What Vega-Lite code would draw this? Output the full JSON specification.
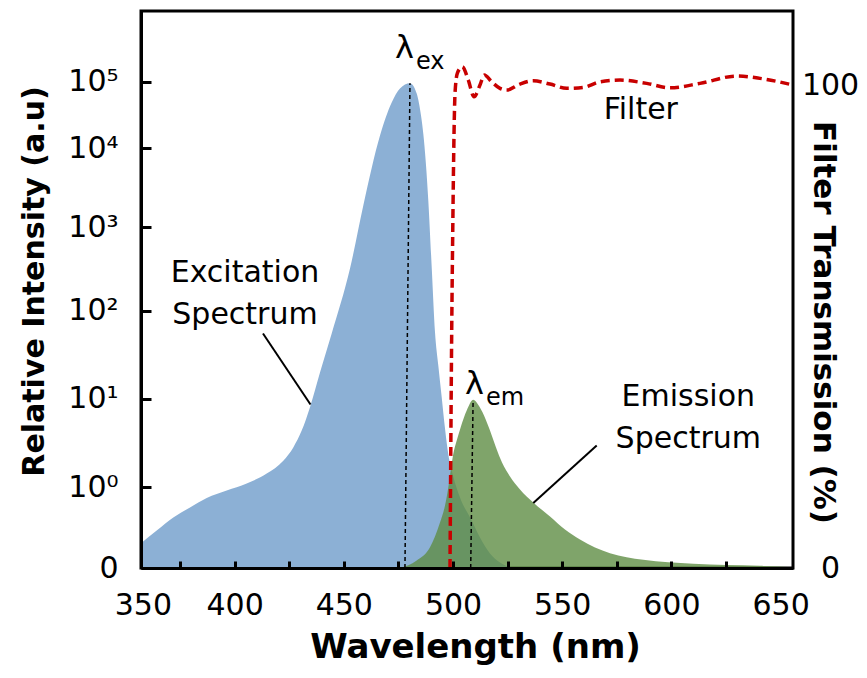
{
  "$schema": "https://vega.github.io/schema/vega-lite/v6.json",
  "width": 652,
  "height": 557,
  "autosize": {"type": "none"},
  "padding": {"left": 141, "top": 11, "right": 74, "bottom": 110},
  "background": "white",
  "config": {
    "font": "DejaVu Sans",
    "view": {"stroke": "black", "strokeWidth": 3},
    "axis": {"grid": false, "labelColor": "black", "titleColor": "black", "domainColor": "black", "tickColor": "black", "labelFontSize": 30, "labelFont": "DejaVu Sans", "titleFont": "DejaVu Sans"}
  },
  "datasets": {
    "exc": [
      {"w": 357.14, "L": 0.307}, {"w": 364.33, "L": 0.464}, {"w": 371.93, "L": 0.625}, {"w": 379.58, "L": 0.749},
      {"w": 387.23, "L": 0.866}, {"w": 396.38, "L": 0.959}, {"w": 405.54, "L": 1.042}, {"w": 414.70, "L": 1.155},
      {"w": 422.30, "L": 1.300}, {"w": 426.88, "L": 1.450}, {"w": 430.72, "L": 1.640}, {"w": 434.52, "L": 1.905},
      {"w": 439.10, "L": 2.298}, {"w": 444.46, "L": 2.740}, {"w": 452.84, "L": 3.504}, {"w": 458.93, "L": 4.275},
      {"w": 466.58, "L": 5.190}, {"w": 471.93, "L": 5.685}, {"w": 475.73, "L": 5.895}, {"w": 480.31, "L": 5.975},
      {"w": 483.38, "L": 5.820}, {"w": 485.35, "L": 5.490}, {"w": 486.40, "L": 5.216}, {"w": 488.69, "L": 4.338},
      {"w": 490.25, "L": 3.520}, {"w": 491.76, "L": 2.754}, {"w": 493.27, "L": 2.377}, {"w": 494.83, "L": 2.018},
      {"w": 496.34, "L": 1.664}, {"w": 497.94, "L": 1.359}, {"w": 500.0, "L": 1.132}, {"w": 503.21, "L": 0.873},
      {"w": 508.56, "L": 0.588}, {"w": 512.36, "L": 0.377}, {"w": 516.94, "L": 0.179}, {"w": 521.52, "L": 0.068},
      {"w": 527.02, "L": 0}
    ],
    "em": [
      {"w": 475.73, "L": 0}, {"w": 483.38, "L": 0.093}, {"w": 489.47, "L": 0.257}, {"w": 494.05, "L": 0.563},
      {"w": 496.34, "L": 0.774}, {"w": 497.85, "L": 0.996}, {"w": 499.09, "L": 1.212}, {"w": 500.14, "L": 1.378},
      {"w": 501.70, "L": 1.528}, {"w": 503.53, "L": 1.679}, {"w": 506.27, "L": 1.868}, {"w": 509.30, "L": 1.989},
      {"w": 511.45, "L": 1.936}, {"w": 514.20, "L": 1.811}, {"w": 516.94, "L": 1.641}, {"w": 519.69, "L": 1.449},
      {"w": 522.44, "L": 1.279}, {"w": 526.10, "L": 1.121}, {"w": 530.68, "L": 0.972}, {"w": 536.77, "L": 0.811},
      {"w": 544.42, "L": 0.637}, {"w": 551.28, "L": 0.476}, {"w": 558.15, "L": 0.353}, {"w": 565.02, "L": 0.254},
      {"w": 571.89, "L": 0.183}, {"w": 587.13, "L": 0.101}, {"w": 610.03, "L": 0.052}, {"w": 640.49, "L": 0.027},
      {"w": 656.17, "L": 0.010}
    ],
    "filt": [
      {"w": 498.63, "T": 0}, {"w": 499.41, "T": 49.22}, {"w": 499.87, "T": 69.26}, {"w": 500.47, "T": 89.99},
      {"w": 500.92, "T": 98.28}, {"w": 501.97, "T": 102.42}, {"w": 504.26, "T": 103.79}, {"w": 507.01, "T": 101.04},
      {"w": 509.62, "T": 97.58}, {"w": 512.36, "T": 100.0}, {"w": 514.33, "T": 102.07}, {"w": 517.72, "T": 100.68},
      {"w": 521.52, "T": 99.32}, {"w": 524.59, "T": 98.96}, {"w": 530.68, "T": 100.21}, {"w": 536.77, "T": 100.89},
      {"w": 544.42, "T": 100.21}, {"w": 552.06, "T": 99.32}, {"w": 559.67, "T": 99.52}, {"w": 567.31, "T": 100.68},
      {"w": 576.47, "T": 101.04}, {"w": 588.69, "T": 100.35}, {"w": 599.36, "T": 99.44}, {"w": 613.10, "T": 100.35},
      {"w": 629.90, "T": 101.87}, {"w": 640.57, "T": 101.39}, {"w": 655.82, "T": 100.0}
    ],
    "refs": [
      {"kind": "peak", "w": 478.0, "L": 0, "w2": 480.3, "L2": 5.975},
      {"kind": "peak", "w": 508.1, "L": 0, "w2": 509.2, "L2": 1.98},
      {"kind": "leader", "w": 413.0, "L": 2.740, "w2": 434.75, "L2": 1.935},
      {"kind": "leader", "w": 565.8, "L": 1.472, "w2": 536.77, "L2": 0.805}
    ],
    "notes": [
      {"t": "Excitation\nSpectrum", "w": 404.76, "L": 3.340},
      {"t": "Emission\nSpectrum", "w": 607.74, "L": 1.924},
      {"t": "Filter", "w": 585.99, "L": 5.441}
    ],
    "syms": [
      {"sym": "λ", "sub": "ex", "w": 482.14, "L": 6.347},
      {"sym": "λ", "sub": "em", "w": 514.20, "L": 2.057}
    ]
  },
  "encoding": {
    "x": {
      "field": "w",
      "type": "quantitative",
      "scale": {"domain": [357.14, 655.68], "nice": false, "zero": false},
      "axis": {
        "title": "Wavelength (nm)",
        "titleFontSize": 34,
        "titleFontWeight": "bold",
        "titleX": 334,
        "titleY": 89,
        "titleAlign": "center",
        "titleBaseline": "alphabetic",
        "values": [358, 375, 400, 425, 450, 475, 500, 525, 550, 575, 600, 625, 650],
        "labelExpr": "datum.value < 360 ? '350' : (datum.value % 50 == 0 ? '' + datum.value : '')",
        "labelFlush": false,
        "labelOverlap": false,
        "labelPadding": 29,
        "labelBaseline": "top",
        "tickSize": -7,
        "tickWidth": 3,
        "tickColor": {"condition": {"test": "datum.value < 360 || datum.value > 640", "value": "rgba(0,0,0,0)"}, "value": "black"},
        "domainWidth": 3,
        "zindex": 1
      }
    }
  },
  "layer": [
    {
      "encoding": {
        "y": {
          "field": "L",
          "type": "quantitative",
          "scale": {"domain": [0, 1, 2, 3, 4, 5, 6, 7.045], "range": [557, 476.2, 387.8, 299.5, 216.2, 137.2, 70.5, 0], "nice": false, "zero": false},
          "axis": {
            "title": "Relative Intensity (a.u)",
            "orient": "left",
            "values": [0, 1, 2, 3, 4, 5, 6],
            "labelExpr": "datum.value == 0 ? '0 ' : '10' + ['⁰','¹','²','³','⁴','⁵'][datum.value - 1]",
            "labelOverlap": false,
            "labelFlush": false,
            "tickSize": -10,
            "tickWidth": 3,
            "labelPadding": 33,
            "labelBaseline": "middle",
            "labelAlign": "right",
            "titleFontSize": 30,
            "titleFontWeight": "bold",
            "titleX": -98,
            "titleY": 270,
            "titleAngle": 270,
            "titleAlign": "center",
            "titleBaseline": "alphabetic",
            "domainWidth": 3,
            "zindex": 1
          }
        }
      },
      "layer": [
        {"data": {"name": "exc"}, "mark": {"type": "area", "color": "#8CB0D5", "interpolate": "monotone", "clip": true}},
        {"data": {"name": "em"}, "mark": {"type": "area", "color": "#5F8D45", "opacity": 0.8, "interpolate": "monotone", "clip": true}},
        {
          "data": {"name": "refs"},
          "transform": [{"filter": "datum.kind == 'peak'"}],
          "mark": {"type": "rule", "color": "black", "strokeWidth": 1.5, "strokeDash": [4, 3]},
          "encoding": {"x2": {"field": "w2"}, "y2": {"field": "L2"}}
        },
        {
          "data": {"name": "refs"},
          "transform": [{"filter": "datum.kind == 'leader'"}],
          "mark": {"type": "rule", "color": "black", "strokeWidth": 2},
          "encoding": {"x2": {"field": "w2"}, "y2": {"field": "L2"}}
        },
        {
          "data": {"name": "notes"},
          "mark": {"type": "text", "fontSize": 30, "align": "center", "baseline": "alphabetic", "lineBreak": "\n", "lineHeight": 42, "color": "black"},
          "encoding": {"text": {"field": "t"}}
        },
        {
          "data": {"name": "syms"},
          "mark": {"type": "text", "fontSize": 32, "align": "right", "baseline": "alphabetic", "color": "black"},
          "encoding": {"text": {"field": "sym"}}
        },
        {
          "data": {"name": "syms"},
          "mark": {"type": "text", "fontSize": 24, "align": "left", "baseline": "alphabetic", "dx": 2, "dy": 11, "color": "black"},
          "encoding": {"text": {"field": "sub"}}
        }
      ]
    },
    {
      "data": {"name": "filt"},
      "mark": {"type": "line", "color": "#C80000", "strokeWidth": 3.5, "strokeDash": [9, 5], "interpolate": "monotone", "clip": true},
      "encoding": {
        "y": {
          "field": "T",
          "type": "quantitative",
          "scale": {"domain": [0, 115.34], "nice": false, "zero": false},
          "axis": {
            "title": "Filter Transmission (%)",
            "orient": "right",
            "values": [0, 100],
            "ticks": false,
            "tickSize": 0,
            "labelPadding": 37,
            "labelAlign": "center",
            "labelBaseline": "middle",
            "domain": false,
            "titleFontSize": 31,
            "titleFontWeight": "bold",
            "titleAngle": 90,
            "titleX": 20,
            "titleY": 311,
            "titleAlign": "center",
            "titleBaseline": "alphabetic"
          }
        }
      }
    }
  ],
  "resolve": {"scale": {"y": "independent"}}
}
